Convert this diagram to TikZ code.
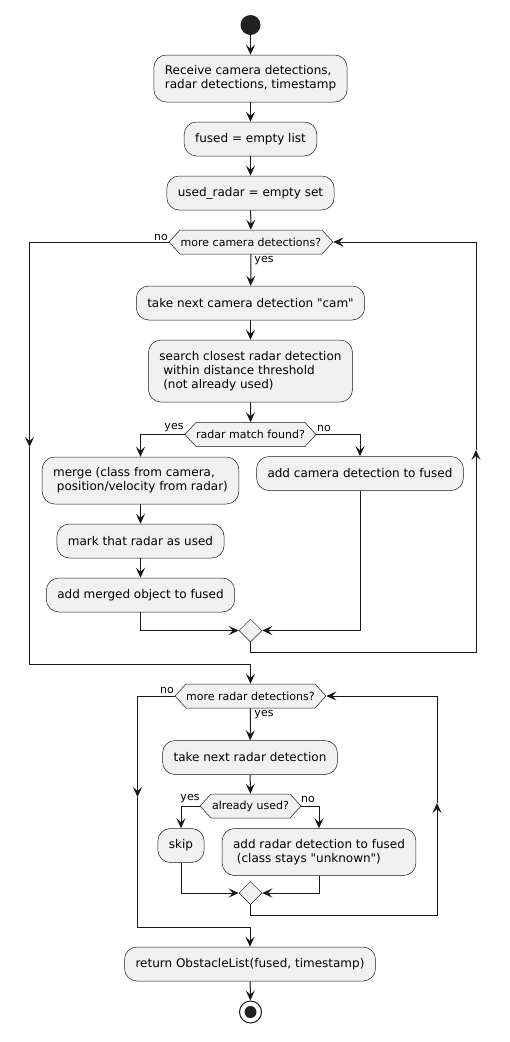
\documentclass[tikz,border=0pt]{standalone}
\usepackage{fontspec}
\setmainfont{DejaVu Sans}
\usetikzlibrary{arrows.meta}
\usetikzlibrary{shapes.geometric, shapes.symbols}
\definecolor{actfill}{HTML}{F1F1F1}
\definecolor{actline}{HTML}{181818}
\definecolor{dotfill}{HTML}{222222}
\newcommand{\dq}{\XeTeXglyph\XeTeXcharglyph"22\relax}
\tikzset{
  act/.style={rectangle, rounded corners=12.5pt, draw=actline, line width=0.5pt,
    fill=actfill, inner xsep=11pt, inner ysep=0pt, minimum height=34pt,
    align=left, font=\fontsize{12}{14}\selectfont},
  choice/.style={signal, signal to=west and east, signal pointer angle=95,
    draw=actline, line width=0.5pt, fill=actfill, inner xsep=0pt, inner ysep=0pt,
    minimum height=24pt, font=\fontsize{11}{13}\selectfont},
  merge/.style={diamond, draw=actline, line width=0.5pt, fill=actfill,
    inner sep=0pt, minimum size=23pt},
  flow/.style={draw=actline, line width=1pt, -{Stealth[length=10pt, width=9pt, inset=4pt]}},
  guard/.style={font=\fontsize{11}{13}\selectfont, inner sep=0pt},
}
\begin{document}
\begin{tikzpicture}[x=1pt, y=-1pt]
    \useasboundingbox (0,0) rectangle (510,1042);

    % camera pass
    \node[circle, fill=dotfill, inner sep=0pt, minimum size=20pt] (start) at (250.5,25) {};
    \node[act, minimum height=47pt] (recv) at (250.5,78.5) {Receive camera detections,\\radar detections, timestamp};
    \node[act] (fused) at (250.5,139) {fused = empty list};
    \node[act] (used) at (250.5,193) {used\_radar = empty set};
    \node[choice, minimum width=164pt] (morecam) at (251,242) {more camera detections?};
    \node[act] (takecam) at (250.5,303) {take next camera detection \dq cam\dq};
    \node[act, minimum height=62pt] (search) at (250.5,371) {search closest radar detection\\\mbox{}\ within distance threshold\\\mbox{}\ (not already used)};
    \node[choice, minimum width=131pt] (match) at (250.5,434.5) {radar match found?};
    \node[act, minimum height=47pt] (mergeobj) at (140.5,480.5) {merge (class from camera,\\\mbox{}\ position/velocity from radar)};
    \node[act] (mark) at (140.5,541) {mark that radar as used};
    \node[act] (addmerged) at (140.5,595) {add merged object to fused};
    \node[act] (addcam) at (360,473.5) {add camera detection to fused};
    \node[merge] (endcam) at (250.5,630.5) {};

    \draw[flow] (start) -- (recv);
    \draw[flow] (recv) -- (fused);
    \draw[flow] (fused) -- (used);
    \draw[flow] (used) -- (morecam);
    \draw[flow] (morecam.south) -- (takecam);
    \draw[flow] (takecam) -- (search);
    \draw[flow] (search) -- (match);
    \draw[flow] (match.west) -| (mergeobj.north);
    \draw[flow] (match.east) -| (addcam.north);
    \draw[flow] (mergeobj) -- (mark);
    \draw[flow] (mark) -- (addmerged);
    \draw[flow] (addmerged.south) |- (endcam.west);
    \draw[flow] (addcam.south) |- (endcam.east);

    \coordinate (backcam) at (476,652);
    \coordinate (upcam) at (476,450);
    \draw[flow] (endcam.south) |- (backcam) -- (upcam);
    \draw[flow] (upcam) |- (morecam.east);

    \coordinate (exitcam) at (29.5,447);
    \coordinate (joincam) at (29.5,664);
    \draw[flow] (morecam.west) -| (exitcam);

    \node[guard] (nocam) at (161,237) {no};
    \node[guard] (yescam) at (264,261) {yes};
    \node[guard] (yesmatch) at (174,428) {yes};
    \node[guard] (nomatch) at (324,428) {no};

    % radar pass
    \node[choice, minimum width=151pt] (morerad) at (250.5,696) {more radar detections?};
    \node[act] (takerad) at (250,757.5) {take next radar detection};
    \node[choice, minimum width=101pt] (usedq) at (250.5,806) {already used?};
    \node[act] (skip) at (181,845.5) {skip};
    \node[act, minimum height=47pt] (addrad) at (319,852) {add radar detection to fused\\\mbox{}\ (class stays \dq unknown\dq)};
    \node[merge] (endrad) at (250.5,893) {};

    \draw[flow] (exitcam) -- (joincam) -| (morerad.north);
    \draw[flow] (morerad.south) -- (takerad);
    \draw[flow] (takerad) -- (usedq);
    \draw[flow] (usedq.west) -| (skip.north);
    \draw[flow] (usedq.east) -| (addrad.north);
    \draw[flow] (skip.south) |- (endrad.west);
    \draw[flow] (addrad.south) |- (endrad.east);

    \coordinate (backrad) at (437,915);
    \coordinate (uprad) at (437,803);
    \draw[flow] (endrad.south) |- (backrad) -- (uprad);
    \draw[flow] (uprad) |- (morerad.east);

    \coordinate (exitrad) at (137.5,797);
    \coordinate (joinrad) at (137.5,927);
    \draw[flow] (morerad.west) -| (exitrad);

    \node[guard] (norad) at (167,690) {no};
    \node[guard] (yesrad) at (264,715) {yes};
    \node[guard] (yesused) at (190,799) {yes};
    \node[guard] (noused) at (308,799) {no};

    \node[act] (ret) at (250,964) {return ObstacleList(fused, timestamp)};
    \node[circle, draw=actline, line width=1pt, fill=white, inner sep=0pt, minimum size=22pt] (stop) at (250.5,1012) {};
    \node[circle, fill=dotfill, inner sep=0pt, minimum size=12pt] (stopdot) at (stop) {};

    \draw[flow] (exitrad) -- (joinrad) -| (ret.north);
    \draw[flow] (ret) -- (stop);
\end{tikzpicture}
\end{document}
